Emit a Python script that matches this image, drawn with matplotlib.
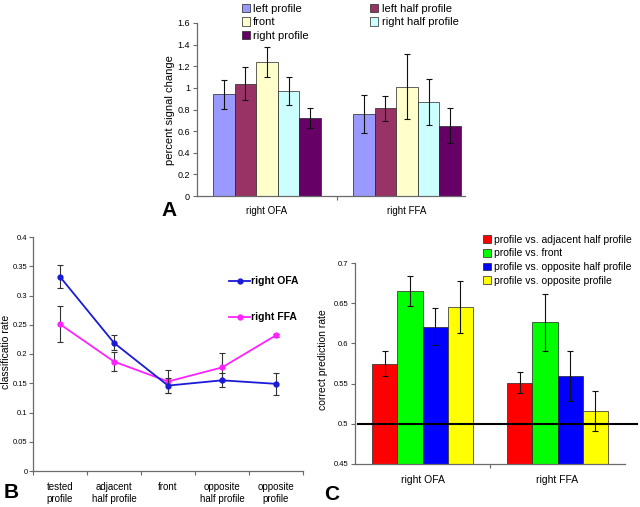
import matplotlib
matplotlib.use("Agg")
import matplotlib.pyplot as plt
import numpy as np
from matplotlib.ticker import FuncFormatter, FixedLocator

plt.rcParams['font.family'] = ['Liberation Sans', 'DejaVu Sans']

# ---------------- data ----------------
# Panel A
a_groups = ["right OFA", "right FFA"]
a_series = ["left profile", "left half profile", "front", "right half profile", "right profile"]
a_values = [[0.94, 0.76], [1.04, 0.81], [1.24, 1.01], [0.97, 0.87], [0.72, 0.65]]
a_errors = [[0.135, 0.175], [0.15, 0.115], [0.14, 0.30], [0.13, 0.215], [0.095, 0.16]]
a_colors = ["#9999FF", "#993366", "#FFFFCC", "#CCFFFF", "#660066"]
a_yticks = [0, 0.2, 0.4, 0.6, 0.8, 1.0, 1.2, 1.4, 1.6]

# Panel B
b_categories = ["tested\nprofile", "adjacent\nhalf profile", "front", "opposite\nhalf profile", "opposite\nprofile"]
b_ofa = [0.332, 0.219, 0.146, 0.155, 0.149]
b_ofa_err = [0.020, 0.013, 0.013, 0.012, 0.019]
b_ffa = [0.251, 0.187, 0.153, 0.177, 0.232]
b_ffa_err = [0.031, 0.016, 0.020, 0.024, 0.003]
b_yticks = [0, 0.05, 0.1, 0.15, 0.2, 0.25, 0.3, 0.35, 0.4]

# Panel C
c_groups = ["right OFA", "right FFA"]
c_series = ["profile vs. adjacent half profile", "profile vs. front",
            "profile vs. opposite half profile", "profile vs. opposite profile"]
c_values = [[0.575, 0.551], [0.665, 0.626], [0.621, 0.559], [0.645, 0.516]]
c_errors = [[0.015, 0.013], [0.019, 0.035], [0.023, 0.031], [0.032, 0.025]]
c_colors = ["#FF0000", "#00FF00", "#0000FF", "#FFFF00"]
c_yticks = [0.45, 0.5, 0.55, 0.6, 0.65, 0.7]
c_chance = 0.5

# ---------------- layout ----------------
W, H = 640, 507
fig = plt.figure(figsize=(W / 100, H / 100), dpi=100)

def box(l, t, r, b):
    return [l / W, 1 - b / H, (r - l) / W, (b - t) / H]

def fx(x):
    return x / W

def fy(y):
    return 1 - y / H

SPINE = "#6a6a6a"
gfmt = FuncFormatter(lambda v, p: f"{v:g}")

def style(ax, tsize, pad=2):
    for s in ["top", "right"]:
        ax.spines[s].set_visible(False)
    for s in ["left", "bottom"]:
        ax.spines[s].set_color(SPINE)
        ax.spines[s].set_linewidth(0.9)
    ax.tick_params(axis="y", direction="out", length=3, width=0.8, color=SPINE,
                   labelsize=tsize, pad=pad)
    ax.yaxis.set_major_formatter(gfmt)

# ---------------- Panel A ----------------
axA = fig.add_axes(box(197, 23, 465, 196))
nA = len(a_series)
bwA = 0.154
xg = np.arange(len(a_groups))
for i, (lab, vals, errs, col) in enumerate(zip(a_series, a_values, a_errors, a_colors)):
    xs = xg + (i - (nA - 1) / 2) * bwA
    axA.bar(xs, vals, width=bwA, color=col, edgecolor="#222222", linewidth=0.5, label=lab,
            yerr=errs, error_kw=dict(ecolor="#111111", elinewidth=0.8, capsize=2.3, capthick=0.8))
axA.set_xlim(-0.5, 1.414)
axA.set_ylim(0, 1.6)
axA.set_yticks(a_yticks)
style(axA, 6.5)
axA.set_xticks(xg)
axA.set_xticklabels(a_groups, fontsize=7)
axA.tick_params(axis="x", length=0, pad=7)
axA.xaxis.set_minor_locator(FixedLocator([0.5]))
axA.tick_params(axis="x", which="minor", length=3, color=SPINE, width=0.8)
fig.text(fx(170), fy(110), "percent signal change", rotation=90, ha="center", va="center", fontsize=8)
hA, lA = axA.get_legend_handles_labels()
order = [0, 2, 4, 1, 3]
fig.legend([hA[i] for i in order], [lA[i] for i in order], ncol=2, frameon=False,
           loc="upper left", bbox_to_anchor=(fx(236), fy(-1.5)), fontsize=8,
           borderpad=0, handlelength=0.75, handleheight=0.75, handletextpad=0.3,
           labelspacing=0.3, columnspacing=5.5)
fig.text(fx(169), fy(211), "A", fontsize=15, fontweight="bold", ha="center", va="center")

# ---------------- Panel B ----------------
axB = fig.add_axes(box(33, 237, 303, 471))
xb = np.arange(len(b_categories))
ofa_col = "#1a1ad8"
ffa_col = "#FF22FF"
axB.errorbar(xb, b_ofa, yerr=b_ofa_err, color=ofa_col, lw=1.3, marker="o", ms=3.5,
             ecolor="#333333", elinewidth=0.8, capsize=2.5, capthick=0.8, label="right OFA", zorder=3)
axB.errorbar(xb, b_ffa, yerr=b_ffa_err, color=ffa_col, lw=1.3, marker="o", ms=3.5,
             ecolor="#333333", elinewidth=0.8, capsize=2.5, capthick=0.8, label="right FFA", zorder=2)
axB.set_xlim(-0.5, 4.5)
axB.set_ylim(0, 0.4)
axB.set_yticks(b_yticks)
style(axB, 5.5, pad=1)
axB.set_xticks(xb)
axB.set_xticklabels(b_categories, fontsize=7, linespacing=1.25)
axB.tick_params(axis="x", length=0, pad=8)
axB.xaxis.set_minor_locator(FixedLocator(np.arange(-0.5, 5, 1.0)))
axB.tick_params(axis="x", which="minor", length=3, color=SPINE, width=0.8)
fig.text(fx(6), fy(352), "classificatio rate", rotation=90, ha="center", va="center", fontsize=7.5)
hB, lB = axB.get_legend_handles_labels()
hB = [h[0] if isinstance(h, tuple) else h for h in hB]
fig.legend(hB, lB, frameon=False, loc="upper left", bbox_to_anchor=(fx(224), fy(271)),
           prop=dict(size=7.5, weight="bold"), borderpad=0, handlelength=2.0,
           handletextpad=0.05, labelspacing=2.5)
fig.text(fx(11), fy(492), "B", fontsize=15, fontweight="bold", ha="center", va="center")

# ---------------- Panel C ----------------
axC = fig.add_axes(box(355, 263, 625, 464))
nC = len(c_series)
bwC = 0.186
xc = np.arange(len(c_groups))
for i, (lab, vals, errs, col) in enumerate(zip(c_series, c_values, c_errors, c_colors)):
    xs = xc + (i - (nC - 1) / 2) * bwC
    axC.bar(xs, vals, width=bwC, color=col, edgecolor="#222222", linewidth=0.5, label=lab,
            yerr=errs, error_kw=dict(ecolor="#111111", elinewidth=0.8, capsize=2.3, capthick=0.8))
axC.set_xlim(-0.5, 1.5)
axC.set_ylim(0.45, 0.7)
axC.set_yticks(c_yticks)
style(axC, 5.5)
axC.set_xticks(xc)
axC.set_xticklabels(c_groups, fontsize=7.5)
axC.tick_params(axis="x", length=0, pad=8)
axC.xaxis.set_minor_locator(FixedLocator([0.5]))
axC.tick_params(axis="x", which="minor", length=3, color=SPINE, width=0.8)
axC.plot([-0.476, 1.59], [c_chance, c_chance], color="black", lw=1.5, clip_on=False, zorder=5)
fig.text(fx(323), fy(360), "correct prediction rate", rotation=90, ha="center", va="center", fontsize=7.5)
hC, lC = axC.get_legend_handles_labels()
fig.legend(hC, lC, frameon=False, loc="upper left", bbox_to_anchor=(fx(478), fy(229.5)),
           fontsize=7.5, borderpad=0, handlelength=0.75, handleheight=0.75,
           handletextpad=0.3, labelspacing=0.35)
fig.text(fx(332), fy(495), "C", fontsize=15, fontweight="bold", ha="center", va="center")

fig.savefig("out.png", dpi=100, facecolor="white")
